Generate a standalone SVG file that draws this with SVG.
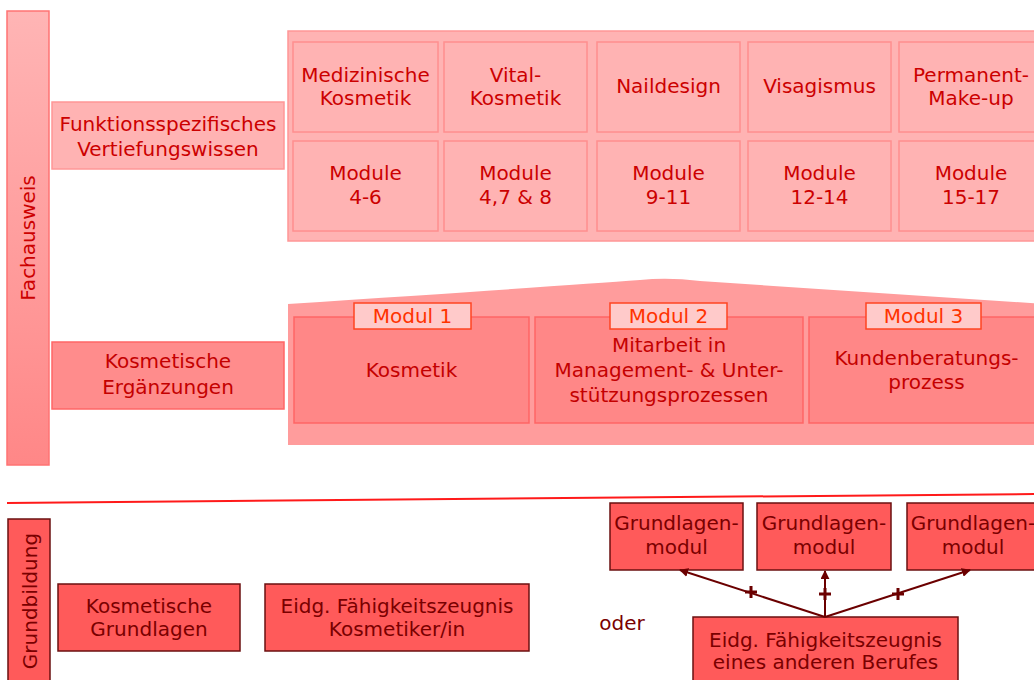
<svg xmlns="http://www.w3.org/2000/svg" width="1034" height="680" viewBox="0 0 1034 680">
<defs>
<linearGradient id="gFach" x1="0" y1="0" x2="0" y2="1">
<stop offset="0" stop-color="#ffb5b5"/>
<stop offset="1" stop-color="#ff8787"/>
</linearGradient>
<marker id="arr" viewBox="0 0 10 10" refX="9" refY="5" markerWidth="9" markerHeight="9" markerUnits="userSpaceOnUse" orient="auto">
<path d="M0,0 L10,5 L0,10 z" fill="#6b0000"/>
</marker>
<style>
text{font-family:"DejaVu Sans","Liberation Sans",sans-serif;font-size:20px;text-anchor:middle}
.t1{fill:#cc0000}
.t2{fill:#c40000}
.t3{fill:#7a0000}
.lab{fill:#ff3300}
.light{fill:#ffb3b3;stroke:#ff9797;stroke-width:1.5}
.cell{fill:#ffb3b3;stroke:#ff8f8f;stroke-width:1.5}
.mid{fill:#ff9c9c;stroke:none}
.midbox{fill:#ff8787;stroke:#ff6565;stroke-width:1.5}
.modlab{fill:#ffcaca;stroke:#ff4422;stroke-width:1.5}
.dark{fill:#ff5a5a;stroke:#6b1010;stroke-width:1.5}
.conn{stroke:#6b0000;stroke-width:2;fill:none}
.plus{stroke:#6b0000;stroke-width:3;fill:none}
</style>
</defs>
<rect width="1034" height="680" fill="#ffffff"/>

<g id="fachausweis">
<rect x="7" y="11" width="42" height="454" fill="url(#gFach)" stroke="#ff7373" stroke-width="1.5"/>
<text class="t1" transform="translate(35,238) rotate(-90)">Fachausweis</text>
</g>

<g id="funktionsspezifisch">
<rect class="light" x="52" y="102" width="232" height="67"/>
<text class="t1" x="168" y="131">Funktionsspezifisches</text>
<text class="t1" x="168" y="156">Vertiefungswissen</text>
</g>

<g id="vertiefung-container">
<rect class="light" x="288" y="31" width="760" height="210"/>
</g>
<g id="med-kosmetik">
<rect class="cell" x="293" y="42" width="145" height="90"/>
<text class="t1" x="365.5" y="82">Medizinische</text>
<text class="t1" x="365.5" y="105">Kosmetik</text>
</g>
<g id="vital-kosmetik">
<rect class="cell" x="444" y="42" width="143" height="90"/>
<text class="t1" x="515.5" y="82">Vital-</text>
<text class="t1" x="515.5" y="105">Kosmetik</text>
</g>
<g id="naildesign">
<rect class="cell" x="597" y="42" width="143" height="90"/>
<text class="t1" x="668.5" y="93">Naildesign</text>
</g>
<g id="visagismus">
<rect class="cell" x="748" y="42" width="143" height="90"/>
<text class="t1" x="819.5" y="93">Visagismus</text>
</g>
<g id="permanent-makeup">
<rect class="cell" x="899" y="42" width="144" height="90"/>
<text class="t1" x="971" y="82">Permanent-</text>
<text class="t1" x="971" y="105">Make-up</text>
</g>
<g id="module-4-6">
<rect class="cell" x="293" y="141" width="145" height="90"/>
<text class="t1" x="365.5" y="180">Module</text>
<text class="t1" x="365.5" y="204">4-6</text>
</g>
<g id="module-4-7-8">
<rect class="cell" x="444" y="141" width="143" height="90"/>
<text class="t1" x="515.5" y="180">Module</text>
<text class="t1" x="515.5" y="204">4,7 &amp; 8</text>
</g>
<g id="module-9-11">
<rect class="cell" x="597" y="141" width="143" height="90"/>
<text class="t1" x="668.5" y="180">Module</text>
<text class="t1" x="668.5" y="204">9-11</text>
</g>
<g id="module-12-14">
<rect class="cell" x="748" y="141" width="143" height="90"/>
<text class="t1" x="819.5" y="180">Module</text>
<text class="t1" x="819.5" y="204">12-14</text>
</g>
<g id="module-15-17">
<rect class="cell" x="899" y="141" width="144" height="90"/>
<text class="t1" x="971" y="180">Module</text>
<text class="t1" x="971" y="204">15-17</text>
</g>

<g id="kosm-ergaenzungen">
<rect x="52" y="342" width="232" height="67" fill="#ff8c8c" stroke="#ff6666" stroke-width="1.5"/>
<text class="t2" x="168" y="368">Kosmetische</text>
<text class="t2" x="168" y="394">Ergänzungen</text>
</g>

<g id="ergaenzung-container">
<path class="mid" d="M288,304 Q560,286 640,280 Q668,277 700,281 L1060,305 L1060,445 L288,445 Z"/>
</g>
<g id="modul1">
<rect class="midbox" x="294" y="317" width="235" height="106"/>
<rect class="modlab" x="354" y="303" width="117" height="26"/>
<text class="lab" x="412.5" y="323">Modul 1</text>
<text class="t2" x="411.5" y="377">Kosmetik</text>
</g>
<g id="modul2">
<rect class="midbox" x="535" y="317" width="268" height="106"/>
<rect class="modlab" x="610" y="303" width="117" height="26"/>
<text class="lab" x="668.5" y="323">Modul 2</text>
<text class="t2" x="669" y="352">Mitarbeit in</text>
<text class="t2" x="669" y="377">Management- &amp; Unter-</text>
<text class="t2" x="669" y="402">stützungsprozessen</text>
</g>
<g id="modul3">
<rect class="midbox" x="809" y="317" width="235" height="106"/>
<rect class="modlab" x="866" y="303" width="115" height="26"/>
<text class="lab" x="923.5" y="323">Modul 3</text>
<text class="t2" x="926.5" y="365">Kundenberatungs-</text>
<text class="t2" x="926.5" y="389">prozess</text>
</g>

<g id="separator">
<line x1="7" y1="503" x2="1034" y2="494" stroke="#ff1a1a" stroke-width="2"/>
</g>

<g id="grundbildung">
<rect x="8" y="519" width="42" height="180" fill="#ff5a5a" stroke="#6b1010" stroke-width="1.5"/>
<text class="t3" transform="translate(36.5,601) rotate(-90)">Grundbildung</text>
</g>
<g id="kosm-grundlagen">
<rect class="dark" x="58" y="584" width="182" height="67"/>
<text class="t3" x="149" y="613">Kosmetische</text>
<text class="t3" x="149" y="636">Grundlagen</text>
</g>
<g id="efz-kosmetiker">
<rect class="dark" x="265" y="584" width="264" height="67"/>
<text class="t3" x="397" y="613">Eidg. Fähigkeitszeugnis</text>
<text class="t3" x="397" y="636">Kosmetiker/in</text>
</g>
<g id="oder">
<text class="t3" x="622" y="630">oder</text>
</g>
<g id="grundlagenmodul1">
<rect class="dark" x="610" y="503" width="133" height="67"/>
<text class="t3" x="676.5" y="530">Grundlagen-</text>
<text class="t3" x="676.5" y="554">modul</text>
</g>
<g id="grundlagenmodul2">
<rect class="dark" x="757" y="503" width="134" height="67"/>
<text class="t3" x="824" y="530">Grundlagen-</text>
<text class="t3" x="824" y="554">modul</text>
</g>
<g id="grundlagenmodul3">
<rect class="dark" x="907" y="503" width="134" height="67"/>
<text class="t3" x="973" y="530">Grundlagen-</text>
<text class="t3" x="973" y="554">modul</text>
</g>
<g id="efz-anderer-beruf">
<rect class="dark" x="693" y="617" width="265" height="80"/>
<text class="t3" x="825.5" y="647">Eidg. Fähigkeitszeugnis</text>
<text class="t3" x="825.5" y="669">eines anderen Berufes</text>
</g>

<g id="connectors">
<line class="conn" x1="825" y1="617" x2="680" y2="570" marker-end="url(#arr)"/>
<line class="conn" x1="825" y1="617" x2="825" y2="571" marker-end="url(#arr)"/>
<line class="conn" x1="825" y1="617" x2="970" y2="570" marker-end="url(#arr)"/>
<path class="plus" d="M745,592 h12 M751,586 v12"/>
<path class="plus" d="M819,594 h12 M825,588 v12"/>
<path class="plus" d="M892,594 h12 M898,588 v12"/>
</g>
</svg>
